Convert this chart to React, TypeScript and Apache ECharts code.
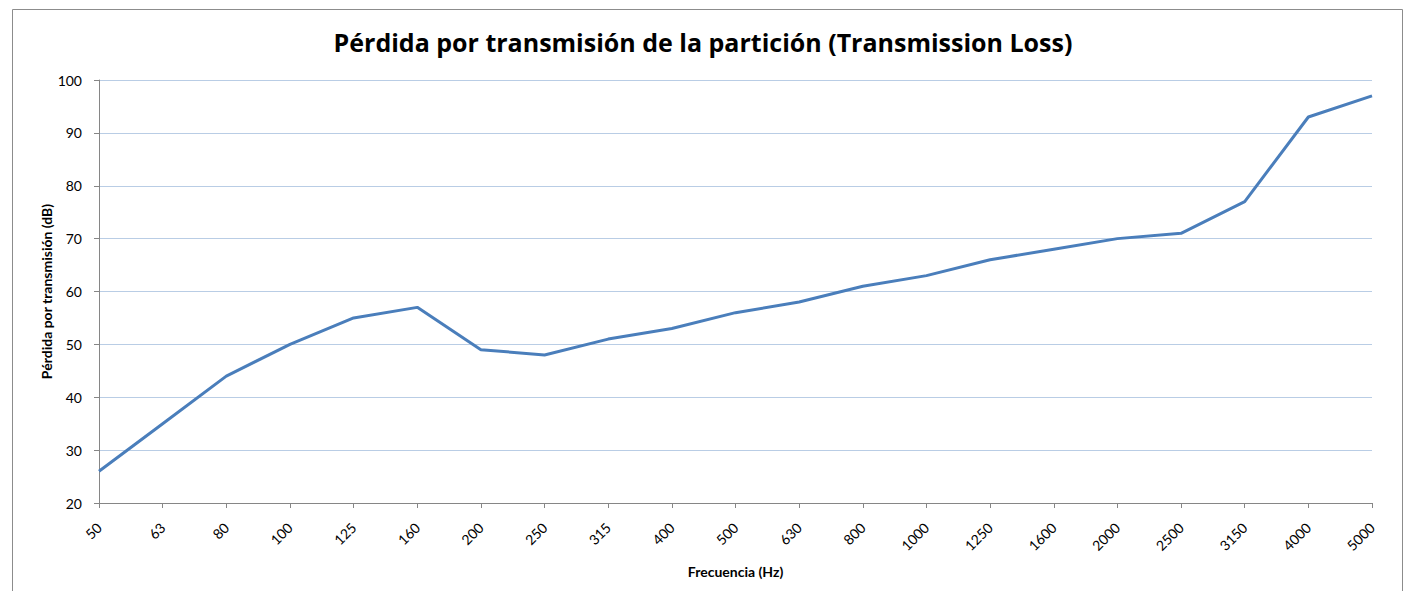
import React, { useEffect, useRef } from "react";
import * as echarts from "echarts";

const categories = ["50","63","80","100","125","160","200","250","315","400","500","630","800","1000","1250","1600","2000","2500","3150","4000","5000"];
const transmissionLoss = [26,35,44,50,55,57,49,48,51,53,56,58,61,63,66,68,70,71,77,93,97];

const FONT = "Lato, 'Open Sans', sans-serif";

export default function App() {
  const ref = useRef<HTMLDivElement>(null);
  useEffect(() => {
    const chart = echarts.init(ref.current!, undefined, { renderer: "svg" });
    chart.setOption({
      animation: false,
      backgroundColor: "#ffffff",
      title: {
        text: "Pérdida por transmisión de la partición (Transmission Loss)",
        left: "center",
        top: 24,
        textStyle: { fontFamily: "'Open Sans', Lato, sans-serif", fontSize: 25, fontWeight: "bold", color: "#000" },
      },
      graphic: [
        {
          type: "rect",
          shape: { x: 12.5, y: 9.5, width: 1390, height: 620 },
          style: { fill: "none", stroke: "#8c8c8c", lineWidth: 1 },
          silent: true,
        },
      ],
      grid: { left: 99, right: 34, top: 80, bottom: 88 },
      xAxis: {
        type: "category",
        data: categories,
        boundaryGap: false,
        name: "Frecuencia (Hz)",
        nameLocation: "middle",
        nameGap: 61,
        nameMoveOverlap: false,
        nameTextStyle: { fontFamily: FONT, fontSize: 14, fontWeight: "bold", color: "#000" },
        axisLine: { lineStyle: { color: "#868686" } },
        axisTick: { show: true, alignWithLabel: true, length: 5, lineStyle: { color: "#868686" } },
        axisLabel: { rotate: 45, fontFamily: FONT, fontSize: 14, color: "#000", margin: 22, interval: 0 },
        splitLine: { show: false },
      },
      yAxis: {
        type: "value",
        min: 20,
        max: 100,
        interval: 10,
        name: "Pérdida por transmisión (dB)",
        nameLocation: "middle",
        nameGap: 46,
        nameMoveOverlap: false,
        nameRotate: 90,
        nameTextStyle: { fontFamily: FONT, fontSize: 14, fontWeight: "bold", color: "#000" },
        axisLine: { show: true, lineStyle: { color: "#868686" } },
        axisTick: { show: true, length: 5, lineStyle: { color: "#868686" } },
        axisLabel: { fontFamily: FONT, fontSize: 14, color: "#000", margin: 17 },
        splitLine: { lineStyle: { color: "#b9cde5", width: 1 } },
      },
      series: [
        {
          type: "line",
          data: transmissionLoss,
          symbol: "none",
          lineStyle: { color: "#4a7ebb", width: 3 },
          itemStyle: { color: "#4a7ebb" },
        },
      ],
    });
    return () => chart.dispose();
  }, []);
  return (
    <div
      ref={ref}
      style={{ position: "absolute", left: 0, top: 0, width: 1406, height: 591 }}
    />
  );
}
